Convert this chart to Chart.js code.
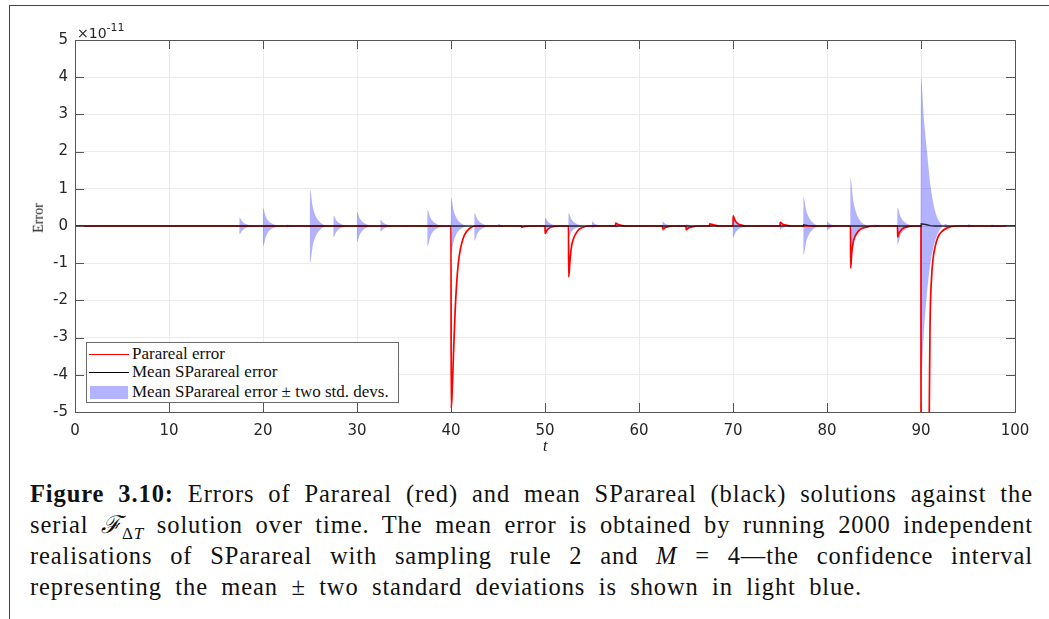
<!DOCTYPE html>
<html>
<head>
<meta charset="utf-8">
<script src="https://cdn.jsdelivr.net/npm/chart.js@4"></script>
<style>
  html, body { margin: 0; padding: 0; background: #fff; }
  body { width: 1049px; height: 619px; position: relative; overflow: hidden; }
  #frame { position: absolute; left: 9px; top: 5px; right: -2px; bottom: -2px; border-left: 1px solid #444; border-top: 1px solid #444; }
  #wrap { position: absolute; left: 0; top: 0; width: 1049px; height: 460px; }
  .lbl { position: absolute; color: #262626; white-space: nowrap; }
  #expo { left: 77px; top: 22px; font: 14px "DejaVu Sans", sans-serif; }
  #expo sup { font-size: 11px; position: relative; top: -1px; }
  #ylab { left: 24px; top: 210px; font: 14px "Liberation Serif", serif; transform: rotate(-90deg); transform-origin: center; color: #111; }
  #xlab { left: 543px; top: 437px; font: italic 16px "Liberation Serif", serif; color: #111; }
  #legend { position: absolute; left: 86px; top: 342px; width: 311px; height: 59px; border: 1px solid #6a6a6a; background: #fff; }
  .row { position: absolute; left: 0; height: 18px; font: 17px "Liberation Serif", serif; color: #111; }
  .row span.t { position: absolute; left: 45px; top: 0; white-space: nowrap; line-height: 18px; }
  .row .ln { position: absolute; left: 2px; width: 40px; top: 9px; height: 0; border-top: 1.5px solid; }
  .row .sw { position: absolute; left: 3px; width: 38px; top: 3px; height: 13px; background: rgb(179,179,255); }
  #caption { position: absolute; left: 30px; top: 478px; width: 1003px; font: 24.5px "Liberation Serif", serif; letter-spacing: 0.9px; color: #111; }
  #caption div { height: 31px; line-height: 31px; text-align: justify; text-align-last: justify; white-space: nowrap; }
  #caption sub { font-size: 17px; line-height: 0; }
</style>
</head>
<body>
<div id="frame"></div>
<div id="wrap"><canvas id="errChart"></canvas></div>
<div class="lbl" id="expo">&times;10<sup>-11</sup></div>
<div class="lbl" id="ylab">Error</div>
<div class="lbl" id="xlab">t</div>
<div id="legend">
  <div class="row" style="top:2px"><div class="ln" style="border-color:#ff0000"></div><span class="t">Parareal error</span></div>
  <div class="row" style="top:20px"><div class="ln" style="border-color:#000"></div><span class="t">Mean SParareal error</span></div>
  <div class="row" style="top:40px"><div class="sw"></div><span class="t">Mean SParareal error &plusmn; two std. devs.</span></div>
</div>
<div id="caption">
  <div><b>Figure 3.10:</b> Errors of Parareal (red) and mean SParareal (black) solutions against the</div>
  <div>serial <i>&#8497;</i><sub>&Delta;<i>T</i></sub> solution over time. The mean error is obtained by running 2000 independent</div>
  <div>realisations of SParareal with sampling rule 2 and <i>M</i> = 4&mdash;the confidence interval</div>
  <div style="width:832px">representing the mean &plusmn; two standard deviations is shown in light blue.</div>
</div>
<script>
// values in units of 1e-11
const xTicks = [0, 10, 20, 30, 40, 50, 60, 70, 80, 90, 100];
const yTicks = [-5, -4, -3, -2, -1, 0, 1, 2, 3, 4, 5];

// Parareal error [t, err]
const parareal = [
  [0, 0],
  [40, 0], [40.02, -4.9], [40.1, -4.6], [40.2, -3.9], [40.3, -3.2], [40.43, -2.35], [40.6, -1.55],
  [40.78, -1.0], [41.0, -0.62], [41.3, -0.33], [41.6, -0.17], [42.0, -0.06], [42.6, 0],
  [47.5, 0], [47.52, -0.03], [47.9, -0.01], [48.3, 0],
  [50, 0], [50.02, -0.2], [50.2, -0.12], [50.5, -0.05], [51, -0.01], [51.5, 0],
  [52.5, 0], [52.52, -1.37], [52.65, -0.95], [52.8, -0.58], [53.0, -0.36], [53.3, -0.2], [53.6, -0.1],
  [54.0, -0.04], [54.6, 0],
  [57.5, 0], [57.52, 0.08], [57.8, 0.04], [58.2, 0.01], [58.6, 0],
  [62.5, 0], [62.52, -0.08], [62.8, -0.04], [63.2, -0.01], [63.6, 0],
  [65, 0], [65.02, -0.1], [65.3, -0.05], [65.7, -0.02], [66.2, 0],
  [67.5, 0], [67.52, 0.06], [67.9, 0.03], [68.5, 0],
  [70, 0], [70.02, 0.27], [70.2, 0.16], [70.45, 0.08], [70.8, 0.03], [71.4, 0],
  [75, 0], [75.02, 0.1], [75.3, 0.05], [75.7, 0.02], [76.2, 0],
  [82.5, 0], [82.52, -1.13], [82.62, -0.75], [82.8, -0.42], [83.0, -0.27], [83.3, -0.15], [83.7, -0.07],
  [84.2, -0.03], [84.8, 0],
  [87.5, 0], [87.52, -0.3], [87.65, -0.2], [87.85, -0.12], [88.2, -0.05], [88.7, -0.01], [89.2, 0],
  [90, 0], [90.01, -40], [90.5, -16], [90.8, -7], [90.88, -5], [90.96, -2.7], [91.13, -1.36], [91.3, -0.85],
  [91.5, -0.56], [91.8, -0.3], [92.2, -0.15], [92.8, -0.05], [93.7, 0],
  [100, 0]
];

// mean SParareal error [t, err]
const sparareal = [
  [0, 0], [77.5, 0], [77.52, 0.03], [78, 0.01], [78.5, 0],
  [90, 0], [90.02, 0.06], [90.5, 0.04], [91, 0.01], [91.5, 0], [100, 0]
];

// confidence band: value at each spike time + offset
const bandOffsets = [0, 0.3, 0.6, 1.0, 1.5, 2.0];
const spikeTimes = [17.5, 20, 22.5, 25, 27.5, 30, 32.5, 35, 37.5, 40, 42.5, 45, 47.5, 50, 52.5, 55,
  57.5, 60, 62.5, 65, 67.5, 70, 72.5, 75, 77.5, 80, 82.5, 85, 87.5, 90, 92.5, 95, 97.5];
const bandUpper = [
  [0.22, 0.12, 0.06, 0.03, 0.01, 0],
  [0.48, 0.25, 0.13, 0.06, 0.01, 0],
  [0.04, 0.02, 0.01, 0, 0, 0],
  [0.97, 0.51, 0.27, 0.12, 0.03, 0],
  [0.28, 0.15, 0.08, 0.03, 0.01, 0],
  [0.38, 0.2, 0.11, 0.05, 0.01, 0],
  [0.17, 0.09, 0.05, 0.02, 0, 0],
  [0.02, 0.01, 0, 0, 0, 0],
  [0.43, 0.23, 0.12, 0.05, 0.01, 0],
  [0.75, 0.4, 0.21, 0.09, 0.02, 0],
  [0.35, 0.19, 0.1, 0.04, 0.01, 0],
  [0.06, 0.03, 0.01, 0, 0, 0],
  [0.02, 0.01, 0, 0, 0, 0],
  [0.22, 0.12, 0.06, 0.03, 0.01, 0],
  [0.35, 0.19, 0.1, 0.04, 0.01, 0],
  [0.12, 0.06, 0.03, 0.01, 0, 0],
  [0.05, 0.03, 0.01, 0, 0, 0],
  [0.02, 0.01, 0, 0, 0, 0],
  [0.12, 0.06, 0.03, 0.01, 0, 0],
  [0.05, 0.03, 0.01, 0, 0, 0],
  [0.03, 0.02, 0.01, 0, 0, 0],
  [0.25, 0.13, 0.07, 0.03, 0.01, 0],
  [0.02, 0.01, 0, 0, 0, 0],
  [0.05, 0.03, 0.01, 0, 0, 0],
  [0.78, 0.41, 0.22, 0.09, 0.02, 0],
  [0.12, 0.06, 0.03, 0.01, 0, 0],
  [1.29, 0.68, 0.36, 0.15, 0.04, 0],
  [0.04, 0.02, 0.01, 0, 0, 0],
  [0.5, 0.27, 0.14, 0.06, 0.02, 0],
  [4.0, 2.9, 2.1, 1.1, 0.4, 0.1],
  [0.06, 0.03, 0.01, 0, 0, 0],
  [0.05, 0.03, 0.01, 0, 0, 0],
  [0.04, 0.02, 0.01, 0, 0, 0]
];
const bandLower = [
  [-0.22, -0.12, -0.06, -0.03, -0.01, 0],
  [-0.55, -0.29, -0.15, -0.07, -0.02, 0],
  [-0.04, -0.02, -0.01, 0, 0, 0],
  [-0.99, -0.52, -0.28, -0.12, -0.03, 0],
  [-0.3, -0.16, -0.08, -0.04, -0.01, 0],
  [-0.43, -0.23, -0.12, -0.05, -0.01, 0],
  [-0.15, -0.08, -0.04, -0.02, 0, 0],
  [-0.02, -0.01, 0, 0, 0, 0],
  [-0.55, -0.29, -0.15, -0.07, -0.02, 0],
  [-0.75, -0.4, -0.21, -0.09, -0.02, 0],
  [-0.4, -0.21, -0.11, -0.05, -0.01, 0],
  [-0.03, -0.02, -0.01, 0, 0, 0],
  [-0.02, -0.01, 0, 0, 0, 0],
  [-0.15, -0.08, -0.04, -0.02, 0, 0],
  [-0.3, -0.16, -0.08, -0.04, -0.01, 0],
  [-0.05, -0.03, -0.01, 0, 0, 0],
  [-0.05, -0.03, -0.01, 0, 0, 0],
  [-0.02, -0.01, 0, 0, 0, 0],
  [-0.15, -0.08, -0.04, -0.02, 0, 0],
  [-0.08, -0.04, -0.02, 0, 0, 0],
  [-0.03, -0.02, -0.01, 0, 0, 0],
  [-0.3, -0.16, -0.08, -0.04, -0.01, 0],
  [-0.02, -0.01, 0, 0, 0, 0],
  [-0.1, -0.05, -0.03, -0.01, 0, 0],
  [-0.78, -0.41, -0.22, -0.09, -0.02, 0],
  [-0.12, -0.06, -0.03, -0.01, 0, 0],
  [-0.9, -0.48, -0.25, -0.11, -0.03, 0],
  [-0.04, -0.02, -0.01, 0, 0, 0],
  [-0.5, -0.27, -0.14, -0.06, -0.02, 0],
  [-4.2, -2.9, -1.9, -1.0, -0.4, -0.1],
  [-0.05, -0.03, -0.01, 0, 0, 0],
  [-0.04, -0.02, -0.01, 0, 0, 0],
  [-0.03, -0.02, -0.01, 0, 0, 0]
];

function toXY(pairs) {
  return pairs.map(p => ({ x: p[0], y: p[1] }));
}

function bandPoints(vals) {
  const pts = [{ x: 0, y: 0 }];
  spikeTimes.forEach((t, i) => {
    pts.push({ x: t - 0.01, y: 0 });
    bandOffsets.forEach((o, j) => pts.push({ x: t + o, y: vals[i][j] }));
    pts.push({ x: t + 2.45, y: 0 });
  });
  pts.push({ x: 100, y: 0 });
  return pts;
}

// axes box + inward ticks like MATLAB
const boxTicks = {
  id: "boxTicks",
  afterDraw(chart) {
    const { ctx, chartArea: a, scales } = chart;
    ctx.save();
    ctx.strokeStyle = "#555";
    ctx.lineWidth = 1;
    ctx.beginPath();
    xTicks.forEach(v => {
      const px = Math.round(scales.x.getPixelForValue(v)) + 0.5;
      ctx.moveTo(px, a.bottom); ctx.lineTo(px, a.bottom - 9);
      ctx.moveTo(px, a.top); ctx.lineTo(px, a.top + 9);
    });
    yTicks.forEach(v => {
      const py = Math.round(scales.y.getPixelForValue(v)) + 0.5;
      ctx.moveTo(a.left, py); ctx.lineTo(a.left + 9, py);
      ctx.moveTo(a.right, py); ctx.lineTo(a.right - 9, py);
    });
    ctx.stroke();
    ctx.strokeRect(Math.round(a.left) + 0.5, Math.round(a.top) + 0.5,
      Math.round(a.right - a.left), Math.round(a.bottom - a.top));
    ctx.restore();
  }
};

document.addEventListener("DOMContentLoaded", () => {
  const ctx = document.getElementById("errChart");

  new Chart(ctx, {
    type: "line",
    data: {
      datasets: [
        {
          label: "Mean SParareal error",
          data: toXY(sparareal),
          borderColor: "rgba(0,0,0,0.8)",
          borderWidth: 1.3,
          pointRadius: 0,
          fill: false,
          order: 0
        },
        {
          label: "Parareal error",
          data: toXY(parareal),
          borderColor: "#ff0000",
          borderWidth: 1.7,
          pointRadius: 0,
          cubicInterpolationMode: "monotone",
          fill: false,
          order: 1
        },
        {
          label: "band upper",
          data: bandPoints(bandUpper),
          borderWidth: 0,
          borderColor: "rgba(0,0,0,0)",
          backgroundColor: "rgba(0,0,255,0.3)",
          pointRadius: 0,
          cubicInterpolationMode: "monotone",
          fill: "origin",
          order: 2
        },
        {
          label: "band lower",
          data: bandPoints(bandLower),
          borderWidth: 0,
          borderColor: "rgba(0,0,0,0)",
          backgroundColor: "rgba(0,0,255,0.3)",
          pointRadius: 0,
          cubicInterpolationMode: "monotone",
          fill: "origin",
          order: 2
        }
      ]
    },
    options: {
      responsive: true,
      maintainAspectRatio: false,
      animation: false,
      layout: { padding: { left: 0, right: 34, top: 40, bottom: 0 } },
      plugins: {
        legend: { display: false },
        tooltip: { enabled: false }
      },
      scales: {
        x: {
          type: "linear",
          min: 0,
          max: 100,
          afterFit: s => { s.height = 48; },
          afterBuildTicks: s => { s.ticks = xTicks.map(v => ({ value: v })); },
          ticks: { color: "#262626", font: { family: "DejaVu Sans", size: 15 }, padding: 10, maxRotation: 0 },
          grid: { color: "#ebebeb", drawTicks: false },
          border: { display: false }
        },
        y: {
          type: "linear",
          min: -5,
          max: 5,
          afterFit: s => { s.width = 75; },
          afterBuildTicks: s => { s.ticks = yTicks.map(v => ({ value: v })); },
          ticks: { color: "#262626", font: { family: "DejaVu Sans", size: 15 }, padding: 7, callback: v => String(v) },
          grid: { color: "#ebebeb", drawTicks: false },
          border: { display: false }
        }
      }
    },
    plugins: [boxTicks]
  });
});
</script>
</body>
</html>
